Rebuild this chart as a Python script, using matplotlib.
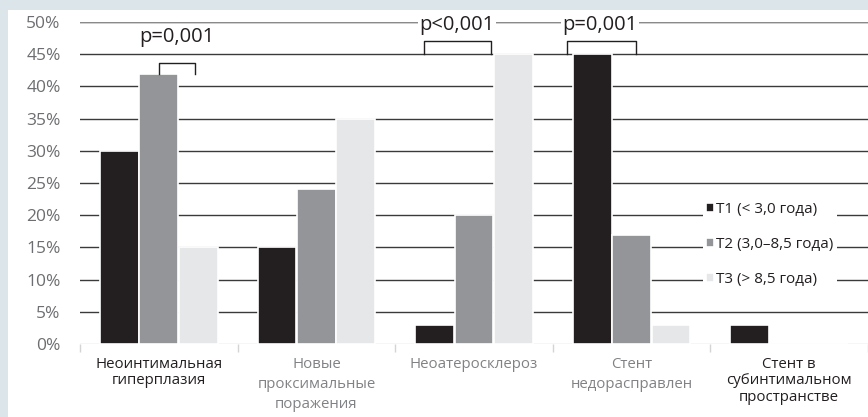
import numpy as np
import matplotlib.pyplot as plt
from matplotlib.patches import Rectangle

plt.rcParams['font.family'] = ['Open Sans', 'DejaVu Sans']

categories = ["Неоинтимальная\nгиперплазия", "Новые\nпроксимальные\nпоражения",
              "Неоатеросклероз", "Стент\nнедорасправлен",
              "Стент в\nсубинтимальном\nпространстве"]
label_colors = ['#231f20', '#808285', '#808285', '#808285', '#231f20']
t1 = [30, 15, 3, 45, 3]
t2 = [42, 24, 20, 17, 0]
t3 = [15, 35, 45, 3, 0]
series_names = ["T1 (< 3,0 года)", "T2 (3,0–8,5 года)", "T3 (> 8,5 года)"]
series_colors = ['#231f20', '#939598', '#e6e7e8']
yticks = [0, 5, 10, 15, 20, 25, 30, 35, 40, 45, 50]

fig = plt.figure(figsize=(8.68, 4.17), dpi=100, facecolor='#dce5ea')
fig.patches.append(Rectangle((8 / 868, 0), 1, 1 - 10 / 417, transform=fig.transFigure,
                             facecolor='white', edgecolor='none', zorder=-5))
ax = fig.add_axes([80 / 868, 1 - 344 / 417, 1 - 80 / 868, (344 - 22) / 417])
ax.set_facecolor('none')
ax.set_zorder(2)

x = np.arange(len(categories))
w = 0.245
for off, vals, col, name in zip([-0.25, 0, 0.25], [t1, t2, t3], series_colors, series_names):
    ax.bar(x + off, vals, width=w, color=col, edgecolor='white', linewidth=1.2,
           label=name, zorder=3)

ax.set_xlim(-0.5, 4.5)
ax.set_ylim(0, 50)
ax.set_yticks(yticks)
ax.set_yticklabels([f"{v}%" for v in yticks], color='#6d6e71', fontsize=12.5)
for v in yticks[1:]:
    ax.axhline(v, color='#3a3a3a', lw=1.0, zorder=1)
ax.axhline(50, color='#8a8a8a', lw=1.6, zorder=1)
ax.axhline(0, color='#d4d4d4', lw=1.0, zorder=2)
ax.tick_params(axis='y', length=0, pad=14)

ax.set_xticks(x)
ax.set_xticklabels(categories, fontsize=10.8)
for lbl, c in zip(ax.get_xticklabels(), label_colors):
    lbl.set_color(c)
    # the grey labels are set a little looser
    lbl.set_linespacing(1.15 if c == '#231f20' else 1.5)
ax.tick_params(axis='x', length=0, pad=9)
ax.set_xticks(np.arange(-0.5, 5, 1), minor=True)
ax.tick_params(axis='x', which='minor', length=6, color='#d4d4d4', width=1.0)
for s in ax.spines.values():
    s.set_visible(False)

# significance brackets
def bracket(x0, x1, ytop, ybot, text, tx, ty, boxed):
    ax.plot([x0, x0, x1, x1], [ybot, ytop, ytop, ybot], color='#231f20', lw=1.0, zorder=4)
    bbox = dict(facecolor='white', edgecolor='none', pad=1) if boxed else None
    ax.text(tx, ty, text, ha='center', va='center', fontsize=14.5, color='#231f20',
            bbox=bbox, zorder=5)

bracket(0.0, 0.23, 43.6, 42, "p=0,001", 0.115, 47.6, False)
bracket(1.68, 2.11, 47.0, 45, "p<0,001", 1.89, 49.6, True)
bracket(2.59, 3.03, 47.0, 45, "p=0,001", 2.80, 49.6, True)

leg = ax.legend(loc='upper left', bbox_to_anchor=(0.79, 0.45),
                frameon=True, facecolor='white', edgecolor='none', framealpha=1,
                fontsize=11, handlelength=0.55, handleheight=0.55, handletextpad=0.15,
                labelspacing=1.3, borderpad=0.2, borderaxespad=0)
for t in leg.get_texts():
    t.set_color('#231f20')
leg.set_zorder(6)

fig.savefig('out.png', dpi=100, facecolor=fig.get_facecolor())
